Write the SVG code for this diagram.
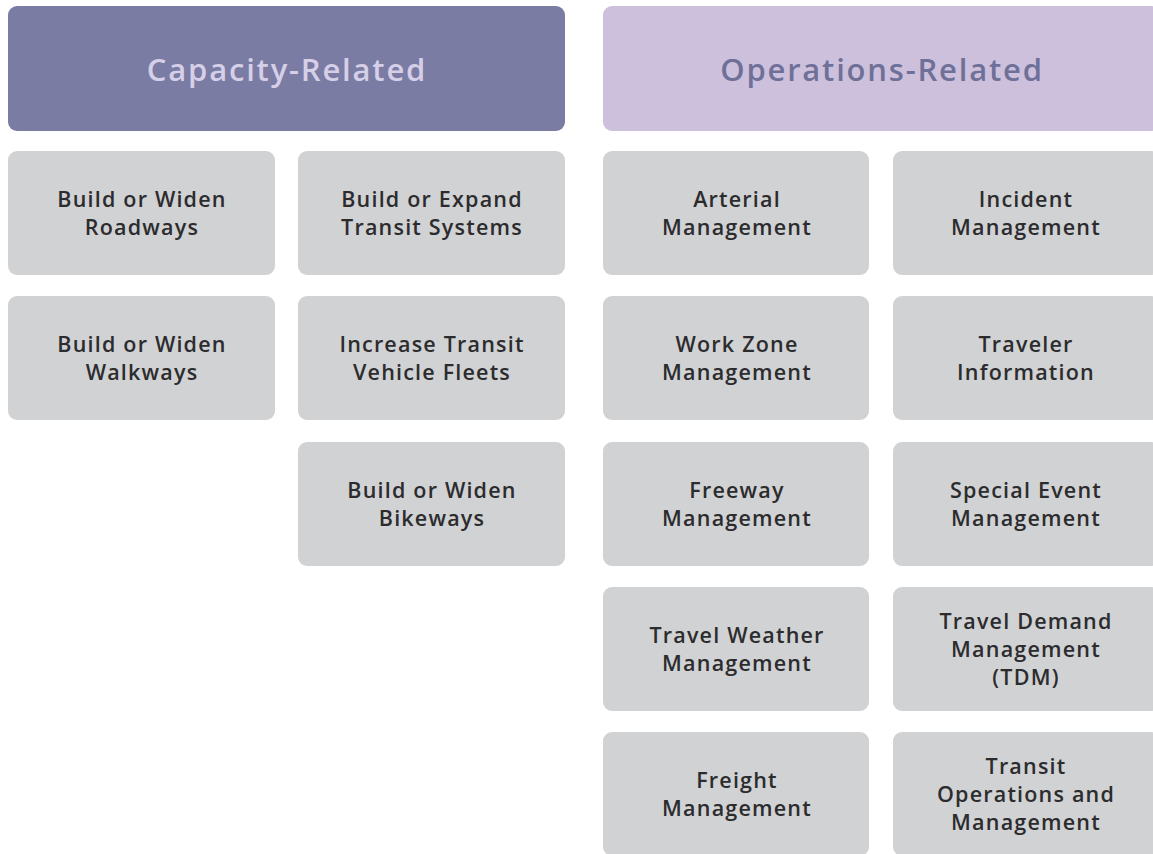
<svg xmlns="http://www.w3.org/2000/svg" width="1153" height="854" viewBox="0 0 1153 854">
  <style>
    .hdr-cap { fill: #7a7ca3; }
    .hdr-ops { fill: #cdc0dc; }
    .hdr-cap-t { fill: #d6cfe8; }
    .hdr-ops-t { fill: #6f7098; }
    .hdr-t { font-family: "Open Sans", "Liberation Sans", sans-serif; font-size: 31px; font-weight: 600; letter-spacing: 1.8px; text-anchor: middle; }
    .box { fill: #d1d2d4; }
    .lbl { font-family: "Open Sans", "Liberation Sans", sans-serif; font-size: 21.5px; font-weight: 600; letter-spacing: 1.2px; fill: #2c2c2e; text-anchor: middle; }
  </style>
  <rect width="1153" height="854" fill="#ffffff"/>

  <!-- category headers -->
  <g id="capacity-related">
    <rect class="hdr-cap" x="8" y="6" width="557" height="125" rx="9"/>
    <text class="hdr-t hdr-cap-t" x="287" y="81">Capacity-Related</text>
  </g>
  <g id="operations-related">
    <rect class="hdr-ops" x="603" y="6" width="557" height="125" rx="9"/>
    <text class="hdr-t hdr-ops-t" x="882" y="81">Operations-Related</text>
  </g>

  <!-- capacity strategies -->
  <g id="build-widen-roadways">
    <rect class="box" x="8" y="151" width="267" height="124" rx="9"/>
    <text class="lbl" x="142" y="207">Build or Widen</text>
    <text class="lbl" x="142" y="235">Roadways</text>
  </g>
  <g id="build-expand-transit">
    <rect class="box" x="298" y="151" width="267" height="124" rx="9"/>
    <text class="lbl" x="432" y="207">Build or Expand</text>
    <text class="lbl" x="432" y="235">Transit Systems</text>
  </g>
  <g id="build-widen-walkways">
    <rect class="box" x="8" y="296" width="267" height="124" rx="9"/>
    <text class="lbl" x="142" y="352">Build or Widen</text>
    <text class="lbl" x="142" y="380">Walkways</text>
  </g>
  <g id="increase-transit-fleets">
    <rect class="box" x="298" y="296" width="267" height="124" rx="9"/>
    <text class="lbl" x="432" y="352">Increase Transit</text>
    <text class="lbl" x="432" y="380">Vehicle Fleets</text>
  </g>
  <g id="build-widen-bikeways">
    <rect class="box" x="298" y="442" width="267" height="124" rx="9"/>
    <text class="lbl" x="432" y="498">Build or Widen</text>
    <text class="lbl" x="432" y="526">Bikeways</text>
  </g>

  <!-- operations strategies -->
  <g id="arterial-management">
    <rect class="box" x="603" y="151" width="266" height="124" rx="9"/>
    <text class="lbl" x="737" y="207">Arterial</text>
    <text class="lbl" x="737" y="235">Management</text>
  </g>
  <g id="incident-management">
    <rect class="box" x="893" y="151" width="267" height="124" rx="9"/>
    <text class="lbl" x="1026" y="207">Incident</text>
    <text class="lbl" x="1026" y="235">Management</text>
  </g>
  <g id="work-zone-management">
    <rect class="box" x="603" y="296" width="266" height="124" rx="9"/>
    <text class="lbl" x="737" y="352">Work Zone</text>
    <text class="lbl" x="737" y="380">Management</text>
  </g>
  <g id="traveler-information">
    <rect class="box" x="893" y="296" width="267" height="124" rx="9"/>
    <text class="lbl" x="1026" y="352">Traveler</text>
    <text class="lbl" x="1026" y="380">Information</text>
  </g>
  <g id="freeway-management">
    <rect class="box" x="603" y="442" width="266" height="124" rx="9"/>
    <text class="lbl" x="737" y="498">Freeway</text>
    <text class="lbl" x="737" y="526">Management</text>
  </g>
  <g id="special-event-management">
    <rect class="box" x="893" y="442" width="267" height="124" rx="9"/>
    <text class="lbl" x="1026" y="498">Special Event</text>
    <text class="lbl" x="1026" y="526">Management</text>
  </g>
  <g id="travel-weather-management">
    <rect class="box" x="603" y="587" width="266" height="124" rx="9"/>
    <text class="lbl" x="737" y="643">Travel Weather</text>
    <text class="lbl" x="737" y="671">Management</text>
  </g>
  <g id="travel-demand-management">
    <rect class="box" x="893" y="587" width="267" height="124" rx="9"/>
    <text class="lbl" x="1026" y="629">Travel Demand</text>
    <text class="lbl" x="1026" y="657">Management</text>
    <text class="lbl" x="1026" y="685">(TDM)</text>
  </g>
  <g id="freight-management">
    <rect class="box" x="603" y="732" width="266" height="124" rx="9"/>
    <text class="lbl" x="737" y="788">Freight</text>
    <text class="lbl" x="737" y="816">Management</text>
  </g>
  <g id="transit-operations-management">
    <rect class="box" x="893" y="732" width="267" height="124" rx="9"/>
    <text class="lbl" x="1026" y="774">Transit</text>
    <text class="lbl" x="1026" y="802">Operations and</text>
    <text class="lbl" x="1026" y="830">Management</text>
  </g>

  <!-- no connectors in this chart -->
  <g id="connectors"/>
</svg>
